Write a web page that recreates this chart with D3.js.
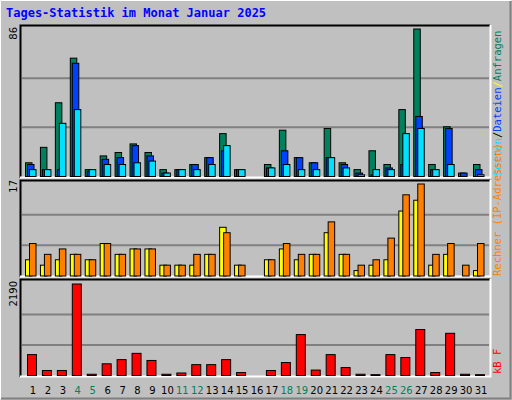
<!DOCTYPE html><html><head><meta charset="utf-8">
<script src="https://d3js.org/d3.v7.min.js"></script>
<style>body{margin:0;background:#fff}</style></head><body>
<script>
const days=d3.range(1,32);
const weekend=[4,5,11,12,18,19,25,26];
const hits =[8,17,43,69,4,12,14,19,14,4,4,7,11,25,4,0,7,27,11,8,28,8,4,15,7,39,86,7,29,2,7];
const files=[7,4,4,66,3,10,11,18,12,2,4,7,11,15,4,0,5,15,11,8,11,7,2,1,5,7,35,4,28,2,4];
const pages=[4,4,31,39,4,7,7,8,9,2,4,4,7,18,4,0,5,7,4,4,11,5,1,4,4,25,28,4,7,0,1];
const visits=[3,2,3,4,3,6,4,5,5,2,2,2,4,9,2,0,3,5,3,4,8,4,1,2,3,12,14,2,4,0,1];
const sites=[6,4,5,4,3,6,4,5,5,2,2,4,4,8,2,0,3,6,4,4,10,4,2,3,7,15,17,4,6,2,6];
const kbytes=[500,120,120,2190,30,280,380,530,360,30,60,260,260,380,70,0,120,310,980,130,500,190,30,20,500,430,1100,70,1010,30,20];
const yMax={top:86,mid:17,bot:2190};

const svg=d3.select("body").append("svg").attr("width",512).attr("height",400);
svg.append("rect").attr("width",512).attr("height",400).attr("fill","#c0c0c0");
svg.append("path").attr("d","M0.5,399.5V0.5H511.5").attr("stroke","#fff").attr("fill","none");
svg.append("path").attr("d","M1,398.5H510.5V1").attr("stroke","#808080").attr("stroke-width",2).attr("fill","none");
svg.append("text").attr("x",6).attr("y",17).text("Tages-Statistik im Monat Januar 2025")
 .attr("fill","#0000ff").attr("font-family","DejaVu Sans Mono").attr("font-weight","bold").attr("font-size",12);

const x=d3.scaleLinear().domain([1,31]).range([33,481]);
const panels=[{t:25,b:178},{t:180,b:277},{t:279,b:377}];
panels.forEach(p=>{
 svg.append("rect").attr("x",20).attr("y",p.t).attr("width",470).attr("height",p.b-p.t).attr("fill","#c0c0c0");
 svg.append("path").attr("d",`M20.5,${p.b}V${p.t+0.5}H490`).attr("stroke","#000").attr("stroke-width",2).attr("fill","none");
 svg.append("path").attr("d",`M20,${p.b-0.5}H490.5V${p.t}`).attr("stroke","#fff").attr("stroke-width",2).attr("fill","none");
});
function grid(y,max){[max/3,2*max/3].forEach(v=>svg.append("line").attr("x1",22).attr("x2",489).attr("y1",y(v)).attr("y2",y(v)).attr("stroke","#808080").attr("stroke-width",2));}
const y1=d3.scaleLinear().domain([0,yMax.top]).range([176.5,29]);
const y2=d3.scaleLinear().domain([0,yMax.mid]).range([276,184]);
const y3=d3.scaleLinear().domain([0,yMax.bot]).range([375.5,284]);
grid(y1,yMax.top);grid(y2,yMax.mid);grid(y3,yMax.bot);
function bars(data,y,off,w,col){
 svg.append("g").selectAll("rect").data(days.filter((d,i)=>data[i]>0)).join("rect")
  .attr("x",d=>x(d)+off+0.5).attr("width",w).attr("y",d=>y(data[d-1])).attr("height",d=>y(0)-y(data[d-1]))
  .attr("fill",col).attr("stroke","#000").attr("stroke-width",1);
}
bars(hits,y1,-8,6.5,"#00805c");bars(files,y1,-6,6.5,"#0040ff");bars(pages,y1,-4,6.5,"#00e0ff");
bars(visits,y2,-8,6.5,"#ffff00");bars(sites,y2,-4,6.5,"#ff8000");
bars(kbytes,y3,-6,9,"#ff0000");
svg.append("g").selectAll("text").data(days).join("text").attr("x",d=>x(d)).attr("y",394).attr("text-anchor","middle")
 .attr("font-family","DejaVu Sans").attr("font-size",10).attr("fill",d=>weekend.includes(d)?"#00805c":"#000").text(d=>d);
function vlab(txt,xx,yy){svg.append("text").attr("transform",`translate(${xx},${yy}) rotate(-90)`).attr("text-anchor","end")
 .attr("font-family","DejaVu Sans").attr("font-size",10).text(txt);}
vlab(yMax.top,17,27);vlab(yMax.mid,17,180);vlab(yMax.bot,17,281);
function rlab(parts,yy){const t=svg.append("text").attr("transform",`translate(501,${yy}) rotate(-90)`)
 .attr("font-family","DejaVu Sans Mono").attr("font-size",10.5);
 parts.forEach(p=>t.append("tspan").attr("fill",p[1]).text(p[0]));}
rlab([["Seiten","#00e0ff"],["/","#000"],["Dateien","#0040ff"],["/","#ffff00"],["Anfragen","#00805c"]],176);
rlab([["Rechner (IP-Adressen)","#ff8000"]],276);
rlab([["kB F","#ff0000"]],374);
</script></body></html>
